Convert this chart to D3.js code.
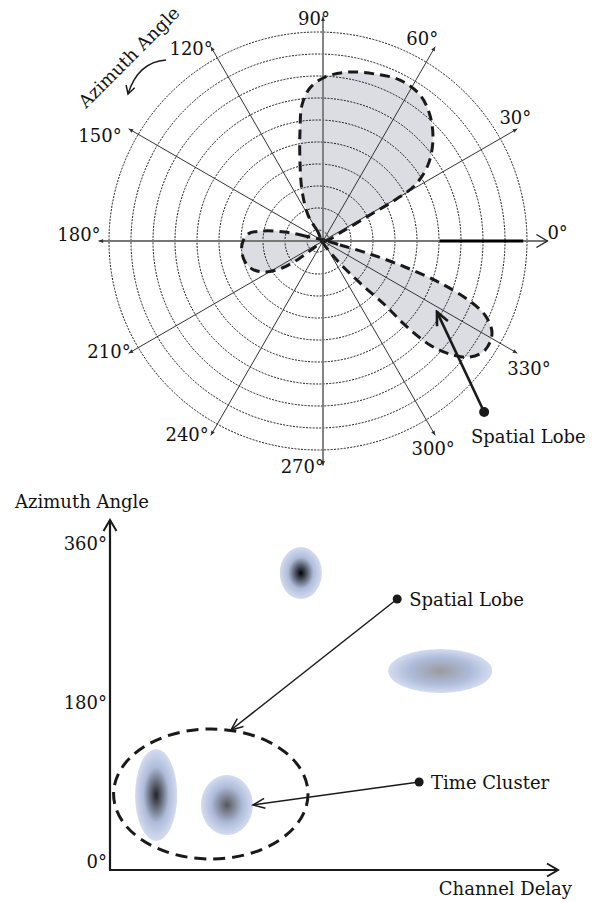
<!DOCTYPE html>
<html><head><meta charset="utf-8">
<script src="https://cdn.jsdelivr.net/npm/d3@7"></script>
<style>
html,body{margin:0;padding:0;background:#fff;}
svg{display:block;}
text{font-family:"DejaVu Serif",serif;font-size:18px;fill:#111;}
</style>
</head><body>
<svg id="c" width="595" height="902"></svg>
<script>
// ---------- DATA ----------
// Top: polar (azimuth) plot
const azimuthTicks = [0,30,60,90,120,150,180,210,240,270,300,330];
const azimuthLabels = azimuthTicks.map(d => d + "°");
const ringLevels = [0.5,1.5,2.5,3.5,4.5,5.5,6.5,7.5,8.5,9.5];
const axisExtent = 10.2;
const zeroBar = [5.3, 9.1];
// lobes: [azimuth deg, radius level]
const upperLobe = [[0,0],[119,0.47],[120,1.36],[112.4,2.51],[105.9,3.83],[101.7,5.15],[98.8,6.25],[94.9,6.98],[89.3,7.45],[81.6,7.76],[72.7,7.95],[64.4,8.11],[56.4,7.97],[49.7,7.51],[42.6,6.79],[35.9,5.89],[31.3,4.9],[29.7,3.77],[29,2.44],[26.6,1.12]];
const leftLobe = [[0,0],[164.5,0.85],[166.7,1.78],[170.7,2.81],[174.7,3.42],[182.8,3.69],[193.5,3.69],[201.5,3.47],[208.1,2.99],[213.4,2.23],[216.5,1.3],[216.9,0.45]];
const lowerLobe = [[0,0],[346.8,0.79],[344.5,2.22],[342.4,3.91],[340.3,5.65],[337.9,7.12],[335.4,8.1],[331.4,8.75],[326.1,8.88],[321.7,8.51],[318.3,7.73],[315.8,6.78],[314.3,5.34],[314.1,4.05],[311.4,2.54],[305.2,0.95]];
const lobeNoteFrom = [313.3, 10.68];
const lobeNoteTo = [328.1, 6.1];

// Bottom: delay / azimuth plane
const angleTicks = [0,180,360];
const angleTickLabels = ["0°","180°","360°"];
const blobDelay = [42.6, 73.7, 10.3, 26.1];
const blobAngle = [336.2, 225.3, 84.9, 73.6];
const blobDelaySpread = [4.7, 11.6, 4.7, 5.8];
const blobAngleSpread = [29.4, 24.9, 52.1, 34.0];
const blobPower = [1.0, 0.12, 0.8, 0.5];
const clusterCenter = [22.5, 86.0];
const clusterSpread = [21.7, 73.6];
const spatialNoteFrom = [64.1, 306.8], spatialNoteTo = [27.0, 158.5];
const timeNoteFrom = [69.0, 99.6], timeNoteTo = [31.9, 73.6];

// ---------- DRAW ----------
const svg = d3.select("#c");
const defs = svg.append("defs");
function chevron(id, len, half, sw, color) {
  defs.append("marker").attr("id", id).attr("markerUnits","userSpaceOnUse")
    .attr("viewBox", `${-len-2} ${-half-2} ${len+4} ${2*half+4}`)
    .attr("refX", 0).attr("refY", 0)
    .attr("markerWidth", len+4).attr("markerHeight", 2*half+4).attr("orient","auto")
    .append("path").attr("d", `M${-len},${-half}L0,0L${-len},${half}`)
    .attr("fill","none").attr("stroke", color).attr("stroke-width", sw)
    .attr("stroke-linejoin","miter");
}
chevron("chevAxis", 11, 6.5, 2, "#1a1a1a");
chevron("chevZero", 11, 6.5, 1.4, "#222");
chevron("chevNote", 12, 5, 1.5, "#1a1a1a");
chevron("chevLobe", 13, 6, 2.6, "#1a1a1a");
chevron("chevCurve", 8, 4.5, 1.5, "#1a1a1a");
defs.append("marker").attr("id","tip").attr("markerUnits","userSpaceOnUse")
  .attr("viewBox","-5 -3 6 6").attr("refX",0).attr("refY",0)
  .attr("markerWidth",6).attr("markerHeight",6).attr("orient","auto")
  .append("path").attr("d","M-4.5,-2L0,0L-4.5,2Z").attr("fill","#333");

// --- Polar plot ---
const cx = 323, cy = 241;
const ringCx = 318;
const rs = d3.scaleLinear().domain([0,10]).range([0,220]);
const pt = (deg, r, x0 = cx) => [x0 + rs(r)*Math.cos(deg*Math.PI/180), cy - rs(r)*Math.sin(deg*Math.PI/180)];

const lobeLine = d3.lineRadial()
  .angle(d => (90 - d[0]) * Math.PI/180)
  .radius(d => rs(d[1]))
  .curve(d3.curveCatmullRomClosed.alpha(0.5));
const gPolar = svg.append("g");
const lobes = [upperLobe, leftLobe, lowerLobe];
const gLobeFill = gPolar.append("g").attr("transform", `translate(${cx},${cy})`);
gLobeFill.selectAll("path").data(lobes).join("path")
  .attr("d", lobeLine).attr("fill", "#dcdde2").attr("stroke","none");

// rings
gPolar.append("g").selectAll("circle").data(ringLevels).join("circle")
  .attr("cx", ringCx).attr("cy", cy).attr("r", d => rs(d))
  .attr("fill","none").attr("stroke","#000").attr("stroke-width",0.9)
  .attr("stroke-dasharray","2,1.3");

// radial axes
gPolar.append("g").selectAll("line").data(azimuthTicks).join("line")
  .attr("x1", cx).attr("y1", cy)
  .attr("x2", d => pt(d, axisExtent)[0]).attr("y2", d => pt(d, axisExtent)[1])
  .attr("stroke", d => d % 90 === 0 ? "#777" : "#333")
  .attr("stroke-width", d => d % 90 === 0 ? 1.8 : 1)
  .attr("marker-end", d => d === 0 ? "url(#chevZero)" : "url(#tip)");

// thick segment on 0 degree
gPolar.append("line")
  .attr("x1", pt(0, zeroBar[0])[0]).attr("y1", cy)
  .attr("x2", pt(0, zeroBar[1])[0]).attr("y2", cy)
  .attr("stroke","#000").attr("stroke-width",3.2);

// lobe outlines
const gLobeLine = gPolar.append("g").attr("transform", `translate(${cx},${cy})`);
gLobeLine.selectAll("path").data(lobes).join("path")
  .attr("d", lobeLine).attr("fill","none").attr("stroke","#1a1a1a")
  .attr("stroke-width",3).attr("stroke-dasharray","10,6");
gPolar.append("circle").attr("cx",cx).attr("cy",cy).attr("r",3).attr("fill","#222");

// labels
const place = {0:["start",0,-2],30:["middle",-2,-5],60:["end",3,-2],90:["end",7,8],
  120:["end",2,8],150:["end",-7,13],180:["end",2,0],210:["end",2,5],240:["end",-2,6],
  270:["end",1,8],300:["middle",-2,20],330:["start",-10,22]};
gPolar.append("g").selectAll("text").data(azimuthTicks).join("text")
  .attr("x", d => pt(d, axisExtent)[0] + place[d][1])
  .attr("y", d => pt(d, axisExtent)[1] + place[d][2])
  .attr("text-anchor", d => place[d][0])
  .text((d,i) => azimuthLabels[i]);

// Azimuth Angle rotated label with curved arrow
svg.append("text").attr("transform","translate(86,109) rotate(-45)").text("Azimuth Angle");
svg.append("path").attr("d","M166,60 Q138,62 128,94")
  .attr("fill","none").attr("stroke","#1a1a1a").attr("stroke-width",1.5)
  .attr("marker-end","url(#chevCurve)");

// Spatial lobe note (top)
const nf = pt(lobeNoteFrom[0], lobeNoteFrom[1]), nt = pt(lobeNoteTo[0], lobeNoteTo[1]);
svg.append("line").attr("x1",nf[0]).attr("y1",nf[1]).attr("x2",nt[0]).attr("y2",nt[1])
  .attr("stroke","#1a1a1a").attr("stroke-width",2.6).attr("marker-end","url(#chevLobe)");
svg.append("circle").attr("cx",nf[0]).attr("cy",nf[1]).attr("r",5).attr("fill","#1a1a1a");
svg.append("text").attr("x",471).attr("y",443).text("Spatial Lobe");

// --- Bottom plane ---
const xD = d3.scaleLinear().domain([0,100]).range([110,558]);
const yA = d3.scaleLinear().domain([0,360]).range([870,552]);
const gB = svg.append("g");

const blobs = blobDelay.map((d,i) => ({x:d, y:blobAngle[i], sx:blobDelaySpread[i], sy:blobAngleSpread[i], p:blobPower[i], i}));
blobs.forEach(b => {
  const core = d3.interpolateRgb("#b0b0b4", "#000")(b.p);
  const g = defs.append("radialGradient").attr("id","bg"+b.i);
  g.append("stop").attr("offset","0").attr("stop-color", core);
  g.append("stop").attr("offset","0.6").attr("stop-color", "#aebbd9");
  g.append("stop").attr("offset","1").attr("stop-color", "#d4dcf0");
});
gB.selectAll("ellipse.blob").data(blobs).join("ellipse").attr("class","blob")
  .attr("cx", d => xD(d.x)).attr("cy", d => yA(d.y))
  .attr("rx", d => xD(d.sx) - xD(0)).attr("ry", d => yA(0) - yA(d.sy))
  .attr("fill", d => `url(#bg${d.i})`);

// cluster outline
gB.append("ellipse").attr("cx", xD(clusterCenter[0])).attr("cy", yA(clusterCenter[1]))
  .attr("rx", xD(clusterSpread[0]) - xD(0)).attr("ry", yA(0) - yA(clusterSpread[1]))
  .attr("fill","none").attr("stroke","#1a1a1a").attr("stroke-width",3)
  .attr("stroke-dasharray","12,7");

// axes
gB.append("line").attr("x1",xD(0)).attr("y1",yA(0)).attr("x2",xD(0)).attr("y2",520)
  .attr("stroke","#1a1a1a").attr("stroke-width",2.2).attr("marker-end","url(#chevAxis)");
gB.append("line").attr("x1",xD(0)-1).attr("y1",yA(0)).attr("x2",558).attr("y2",yA(0))
  .attr("stroke","#1a1a1a").attr("stroke-width",2.2).attr("marker-end","url(#chevAxis)");
const yAxis = d3.axisLeft(yA).tickValues(angleTicks).tickSize(0).tickPadding(3)
  .tickFormat((d,i) => angleTickLabels[i]);
const ya = gB.append("g").attr("transform",`translate(${xD(0)},0)`).call(yAxis);
ya.select(".domain").remove();
ya.attr("font-family",null).attr("font-size",null);
ya.selectAll("text").attr("fill",null).attr("dy","-0.12em").attr("x",-3);
gB.append("text").attr("x",15).attr("y",508).text("Azimuth Angle");
gB.append("text").attr("x",572).attr("y",895).attr("text-anchor","end").text("Channel Delay");

// notes
function note(from, to, label) {
  const x1 = xD(from[0]), y1 = yA(from[1]);
  gB.append("line").attr("x1",x1).attr("y1",y1).attr("x2",xD(to[0])).attr("y2",yA(to[1]))
    .attr("stroke","#1a1a1a").attr("stroke-width",1.5).attr("marker-end","url(#chevNote)");
  gB.append("circle").attr("cx",x1).attr("cy",y1).attr("r",4.5).attr("fill","#1a1a1a");
  gB.append("text").attr("x",x1+12).attr("y",y1+7).text(label);
}
note(spatialNoteFrom, spatialNoteTo, "Spatial Lobe");
note(timeNoteFrom, timeNoteTo, "Time Cluster");
</script>
</body></html>
